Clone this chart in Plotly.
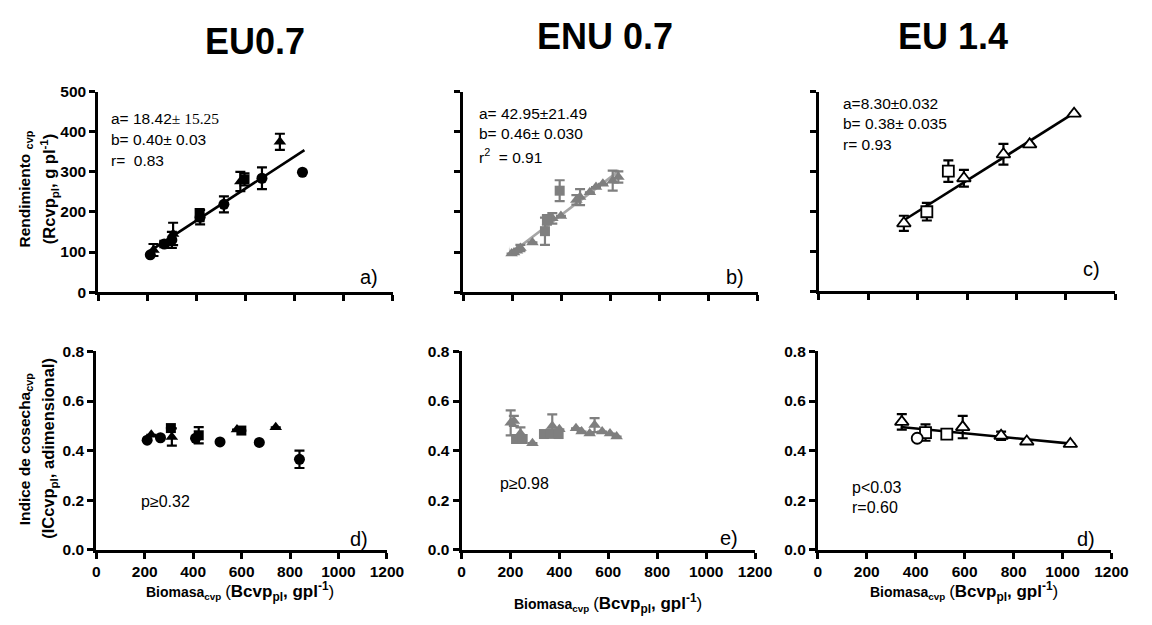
import plotly.graph_objects as go

W, H = 1152, 625
BLACK = "#000000"
GREY = "#7f7f7f"
LINE_GREY = "#a6a6a6"
FONT = "Liberation Sans, Arial, sans-serif"

# ---------------- data ----------------
# a) EU0.7 - yield vs biomass (filled black)
a_circ_x = [212, 269, 300, 415, 512, 667, 832]
a_circ_y = [93, 120, 130, 187, 219, 284, 299]
a_circ_e = [None, 8, 20, 18, 20, 27, None]
a_tri_x = [225, 305, 579, 740]
a_tri_y = [105, 145, 276, 375]
a_tri_e = [15, 28, 24, 20]
a_sq_x = [413, 596]
a_sq_y = [192, 281]
a_sq_e = [15, 15]
a_fit = (18.42, 0.40)
a_fit_x = [205, 840]

# b) ENU 0.7 - yield vs biomass (grey)
b_tri_x = [196, 206, 218, 232, 281, 362, 397, 460, 475, 515, 540, 568, 608, 631]
b_tri_y = [96, 99, 103, 110, 124, 184, 190, 230, 237, 249, 262, 270, 278, 287]
b_tri_e = [None, None, None, 8, None, 13, None, 12, 20, None, None, None, 25, 14]
b_sq_x = [332, 340, 392]
b_sq_y = [152, 180, 253]
b_sq_e = [34, 12, 26]
b_fit = (6.5, 0.467)
b_fit_x = [635, 181]

# c) EU 1.4 - yield vs biomass (open black)
c_tri_x = [344, 587, 747, 853, 1033]
c_tri_y = [170, 283, 343, 368, 445]
c_tri_e = [19, 21, 26, None, None]
c_sq_x = [437, 524]
c_sq_y = [199, 301]
c_sq_e = [22, 27]
c_fit = (43.6, 0.39)
c_fit_x = [347, 1040]

# d) EU0.7 - harvest index vs biomass
d_circ_x = [210, 265, 410, 511, 673, 839]
d_circ_y = [0.442, 0.452, 0.45, 0.435, 0.433, 0.365]
d_circ_e = [None, None, None, None, None, 0.035]
d_tri_x = [227, 312, 581, 741]
d_tri_y = [0.464, 0.455, 0.485, 0.494]
d_tri_e = [None, 0.035, None, None]
d_sq_x = [308, 423, 599]
d_sq_y = [0.491, 0.462, 0.481]
d_sq_e = [None, 0.033, None]

# e) ENU 0.7 - harvest index vs biomass
e_tri_x = [201, 214, 241, 290, 371, 400, 468, 491, 524, 544, 575, 607, 634]
e_tri_y = [0.512, 0.52, 0.469, 0.43, 0.499, 0.486, 0.49, 0.477, 0.469, 0.503, 0.477, 0.469, 0.457]
e_tri_e = [0.05, 0.02, 0.025, None, 0.047, None, None, None, None, 0.028, None, None, None]
e_sq_x = [223, 250, 337, 364, 397]
e_sq_y = [0.447, 0.447, 0.467, 0.469, 0.467]

# f) EU 1.4 - harvest index vs biomass
f_tri_x = [343, 592, 749, 854, 1032]
f_tri_y = [0.516, 0.495, 0.46, 0.437, 0.427]
f_tri_e = [0.031, 0.045, 0.017, None, None]
f_sq_x = [440, 527]
f_sq_y = [0.473, 0.467]
f_sq_e = [0.033, None]
f_circ_x = [406]
f_circ_y = [0.45]
f_fit = (0.528, -0.0000965)
f_fit_x = [339, 1045]

x_ticks = [0, 200, 400, 600, 800, 1000, 1200]
y_ticks_top = [0, 100, 200, 300, 400, 500]
y_ticks_bot = [0.0, 0.2, 0.4, 0.6, 0.8]

# ---------------- layout helpers ----------------
def xdom(p0, p1):
    return [p0 / W, p1 / W]

def ydom(top, bottom):
    return [1 - bottom / H, 1 - top / H]

fig = go.Figure()


def scatter(ax, x, y, err, symbol, color, size=11, open_=False):
    marker = dict(symbol=symbol, size=size, color="white" if open_ else color,
                  line=dict(color=color, width=1.8 if open_ else 0))
    kw = {}
    if err is not None:
        kw["error_y"] = dict(type="data", array=err, visible=True, color=color,
                             thickness=2.2, width=5)
    fig.add_trace(go.Scatter(x=x, y=y, mode="markers", marker=marker,
                             xaxis="x" + ax, yaxis="y" + ax, showlegend=False,
                             cliponaxis=False, **kw))


def fit_line(ax, xs, coef, color, width=2.6, arrow=False):
    a, b = coef
    ys = [a + b * v for v in xs]
    kw = {}
    if arrow:
        kw["mode"] = "lines+markers"
        kw["marker"] = dict(symbol="arrow-wide", size=[0, 13], color=color,
                            angleref="previous")
    else:
        kw["mode"] = "lines"
    fig.add_trace(go.Scatter(x=xs, y=ys, line=dict(color=color, width=width),
                             xaxis="x" + ax, yaxis="y" + ax, showlegend=False,
                             cliponaxis=False, **kw))


# panel a
fit_line("", a_fit_x, a_fit, BLACK)
scatter("", a_circ_x, a_circ_y, a_circ_e, "circle", BLACK)
scatter("", a_tri_x, a_tri_y, a_tri_e, "triangle-up", BLACK)
scatter("", a_sq_x, a_sq_y, a_sq_e, "square", BLACK, size=10)
# panel b
fit_line("2", b_fit_x, b_fit, LINE_GREY, arrow=True)
scatter("2", b_tri_x, b_tri_y, b_tri_e, "triangle-up", GREY)
scatter("2", b_sq_x, b_sq_y, b_sq_e, "square", GREY, size=10)
# panel c
fit_line("3", c_fit_x, c_fit, BLACK)
scatter("3", c_tri_x, c_tri_y, c_tri_e, "triangle-up", BLACK, size=12, open_=True)
scatter("3", c_sq_x, c_sq_y, c_sq_e, "square", BLACK, size=11, open_=True)
# panel d
scatter("4", d_circ_x, d_circ_y, d_circ_e, "circle", BLACK)
scatter("4", d_tri_x, d_tri_y, d_tri_e, "triangle-up", BLACK)
scatter("4", d_sq_x, d_sq_y, d_sq_e, "square", BLACK, size=10)
# panel e
scatter("5", e_tri_x, e_tri_y, e_tri_e, "triangle-up", GREY)
scatter("5", e_sq_x, e_sq_y, None, "square", GREY, size=10)
# panel f
fit_line("6", f_fit_x, f_fit, BLACK)
scatter("6", f_tri_x, f_tri_y, f_tri_e, "triangle-up", BLACK, size=12, open_=True)
scatter("6", f_sq_x, f_sq_y, f_sq_e, "square", BLACK, size=11, open_=True)
scatter("6", f_circ_x, f_circ_y, None, "circle", BLACK, size=11, open_=True)

tickfont = dict(family=FONT, size=15.5, color=BLACK, weight="bold")


def xaxis(domain, anchor, labels):
    return dict(domain=domain, anchor=anchor, range=[0, 1200], tickvals=x_ticks,
                showticklabels=labels, showline=True, linewidth=3, linecolor=BLACK,
                ticks="outside", ticklen=6, tickwidth=2.5, tickcolor=BLACK,
                showgrid=False, zeroline=False, tickfont=tickfont)


def yaxis(domain, anchor, rng, ticks, labels, fmt=None):
    d = dict(domain=domain, anchor=anchor, range=rng, tickvals=ticks,
             showticklabels=labels, showline=True, linewidth=3, linecolor=BLACK,
             ticks="outside", ticklen=6, tickwidth=2.5, tickcolor=BLACK,
             showgrid=False, zeroline=False, tickfont=tickfont)
    if fmt:
        d["tickformat"] = fmt
    return d


top = ydom(85, 291)
bot = ydom(352, 556)
fig.update_layout(
    width=W, height=H, margin=dict(l=0, r=0, t=0, b=0),
    paper_bgcolor="white", plot_bgcolor="white",
    xaxis=xaxis(xdom(96, 396), "y", False),
    yaxis=yaxis(top, "x", [0, 500], y_ticks_top, True),
    xaxis2=xaxis(xdom(468, 768), "y2", False),
    yaxis2=yaxis(top, "x2", [0, 500], y_ticks_top, False),
    xaxis3=xaxis(xdom(830, 1132), "y3", False),
    yaxis3=yaxis(ydom(85, 290), "x3", [0, 500], y_ticks_top, False),
    xaxis4=xaxis(xdom(94, 390), "y4", True),
    yaxis4=yaxis(bot, "x4", [0, 0.8], y_ticks_bot, True, ".1f"),
    xaxis5=xaxis(xdom(466, 765), "y5", True),
    yaxis5=yaxis(bot, "x5", [0, 0.8], y_ticks_bot, True, ".1f"),
    xaxis6=xaxis(xdom(829, 1128), "y6", True),
    yaxis6=yaxis(bot, "x6", [0, 0.8], y_ticks_bot, True, ".1f"),
)


def note(px, py, text, size=15.5, xanchor="left", yanchor="middle", angle=0, bold=False,
         family=FONT):
    fig.add_annotation(x=px / W, y=1 - py / H, xref="paper", yref="paper",
                       text=f"<b>{text}</b>" if bold else text, showarrow=False,
                       xanchor=xanchor, yanchor=yanchor, textangle=angle,
                       font=dict(family=family, size=size, color=BLACK))


# column titles
note(256, 33, "EU0.7", size=36, xanchor="center", bold=True)
note(612, 28, "ENU 0.7", size=36, xanchor="center", bold=True)
note(967, 28, "EU 1.4", size=36, xanchor="center", bold=True)

# regression statistics
note(107, 113, "a= 18.42<span style='font-family:Liberation Serif, Times New Roman, serif'>± 15.25</span>")
note(107, 134, "b= 0.40± 0.03")
note(107, 156, "r=  0.83")
note(482, 107, "a= 42.95±21.49")
note(482, 128, "b= 0.46± 0.030")
note(482, 151, "r<sup>2</sup>  = 0.91")
note(853, 97, "a=8.30±0.032")
note(853, 118, "b= 0.38± 0.035")
note(853, 139, "r= 0.93")
note(137, 506, "p≥0.32", size=16)
note(503, 488, "p≥0.98", size=16)
note(862, 492, "p<0.03", size=16)
note(862, 512, "r=0.60", size=16)

# panel letters
note(383, 276, "a)", size=20, xanchor="right")
note(756, 276, "b)", size=20, xanchor="right")
note(1118, 267, "c)", size=20, xanchor="right")
note(373, 545, "d)", size=20, xanchor="right")
note(750, 544, "e)", size=20, xanchor="right")
note(1113, 545, "d)", size=20, xanchor="right")

# y-axis titles (two stacked rotated lines each)
note(22, 185, "Rendimiento <sub>cvp</sub>", size=15.5, xanchor="center", angle=-90, bold=True)
note(46, 185, "(Rcvp<sub>pl</sub>, g pl<sup>-1</sup>)", size=16.5, xanchor="center", angle=-90, bold=True)
note(22, 452, "Indice de cosecha<sub>cvp</sub>", size=15.5, xanchor="center", angle=-90, bold=True)
note(46, 452, "(ICcvp<sub>pl</sub>, adimensional)", size=16.5, xanchor="center", angle=-90, bold=True)

# x-axis titles
xt = ("<b>Biomasa<sub>cvp</sub></b> <span style='font-size:17px'>(<b>Bcvp<sub>pl</sub>, "
      "gpl<sup>-1</sup></b>)</span>")
note(240, 599, xt, size=14, xanchor="center")
note(615, 611, xt, size=14, xanchor="center")
note(978, 599, xt, size=14, xanchor="center")

fig.write_html("out.html")
